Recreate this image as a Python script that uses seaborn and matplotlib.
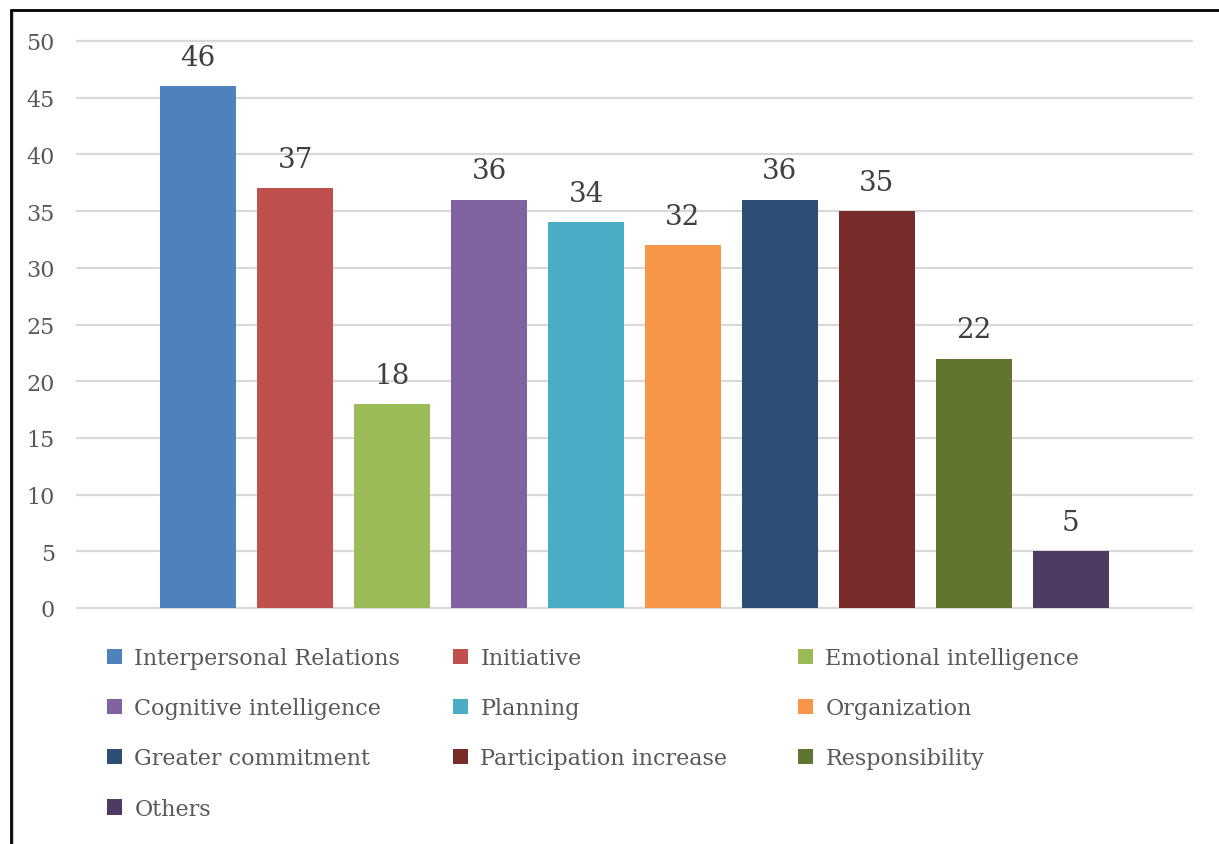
import matplotlib
matplotlib.use("Agg")
import matplotlib.pyplot as plt
import seaborn as sns
import pandas as pd
from matplotlib.patches import Patch
from matplotlib.lines import Line2D

# Data
categories = [
    "Interpersonal Relations", "Initiative", "Emotional intelligence",
    "Cognitive intelligence", "Planning", "Organization",
    "Greater commitment", "Participation increase", "Responsibility", "Others",
]
values = [46, 37, 18, 36, 34, 32, 36, 35, 22, 5]
colors = [
    "#4F81BD", "#C0504D", "#9BBB59", "#8064A2", "#4BACC6",
    "#F79646", "#2C4D75", "#772C2A", "#5F7530", "#4D3B62",
]
y_ticks = [0, 5, 10, 15, 20, 25, 30, 35, 40, 45, 50]

sns.set_theme(style="white")
plt.rcParams["font.family"] = ["DejaVu Serif"]

W, H = 1219, 845
fig = plt.figure(figsize=(W / 100, H / 100), dpi=100)
ax = fig.add_axes([77 / W, 1 - 609 / H, (1192 - 77) / W, (609 - 42) / H])

df = pd.DataFrame({"category": categories, "value": values})
sns.barplot(data=df, x="category", y="value", hue="category", palette=colors,
            hue_order=categories, order=categories, width=0.79, saturation=1,
            legend=False, linewidth=0, edgecolor="none", ax=ax)

ax.set_xlim(-1.25, 10.25)
ax.set_ylim(0, 50)
ax.set_yticks(y_ticks)
ax.set_xticks([])
ax.set_xlabel("")
ax.set_ylabel("")
ax.yaxis.grid(True, color="#D9D9D9", linewidth=1.6)
for gl in ax.get_ygridlines():
    gl.set_clip_on(False)
ax.set_axisbelow(True)
for s in ax.spines.values():
    s.set_visible(False)
ax.tick_params(axis="y", length=0, pad=16, labelsize=16, labelcolor="#595959")

for cont in ax.containers:
    ax.bar_label(cont, padding=11, fontsize=20, color="#404040")

# Legend laid out in three columns below the plot
handles = [Patch(facecolor=c, edgecolor="none") for c in colors]
columns = [[0, 3, 6, 9], [1, 4, 7], [2, 5, 8]]
col_x = [107, 453, 798]
for idx, x0 in zip(columns, col_x):
    fig.legend([handles[i] for i in idx], [categories[i] for i in idx],
               loc="upper left", bbox_to_anchor=(x0 / W, 1 - 648 / H),
               frameon=False, borderpad=0, borderaxespad=0,
               handlelength=0.68, handleheight=0.68, handletextpad=0.55,
               labelspacing=1.27, fontsize=16, labelcolor="#595959")

# Outer frame
fig.add_artist(Line2D([10.5 / W, 10.5 / W], [0, 1 - 11 / H], color="black",
                      linewidth=2, transform=fig.transFigure))
fig.add_artist(Line2D([10.5 / W, 1], [1 - 11 / H, 1 - 11 / H], color="black",
                      linewidth=2, transform=fig.transFigure))
fig.add_artist(Line2D([13 / W, 13 / W], [0, 1 - 13 / H], color="#C8C8C8",
                      linewidth=0.8, transform=fig.transFigure))

fig.savefig("out.png", dpi=100)
